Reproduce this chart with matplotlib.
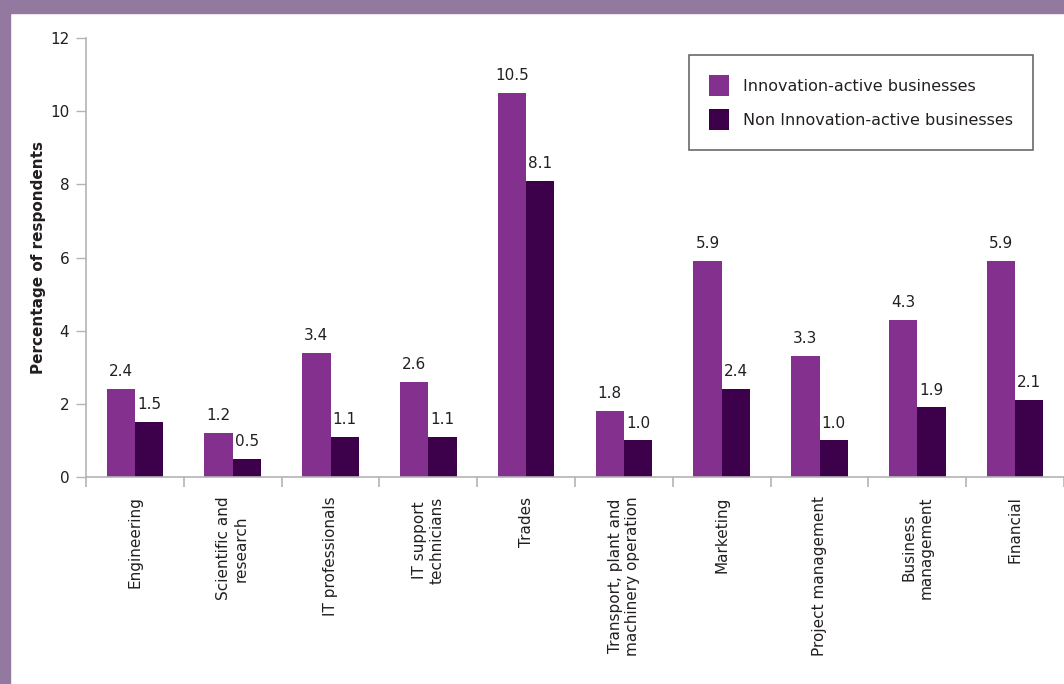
import matplotlib.pyplot as plt
import numpy as np
from matplotlib.patches import Rectangle

categories = ["Engineering", "Scientific and\nresearch", "IT professionals",
              "IT support\ntechnicians", "Trades", "Transport, plant and\nmachinery operation",
              "Marketing", "Project management", "Business\nmanagement", "Financial"]
innovative = [2.4, 1.2, 3.4, 2.6, 10.5, 1.8, 5.9, 3.3, 4.3, 5.9]
non_innovative = [1.5, 0.5, 1.1, 1.1, 8.1, 1.0, 2.4, 1.0, 1.9, 2.1]
series_names = ["Innovation-active businesses", "Non Innovation-active businesses"]

C_INNOV = "#84308f"
C_NON = "#3d004b"
C_AXIS = "#b4b4b4"
C_TEXT = "#231f20"

plt.rcParams['font.family'] = ['DejaVu Sans']

fig = plt.figure(figsize=(10.64, 6.84), dpi=100)
fig.patch.set_facecolor("white")

# purple frame along top and left
fig.patches.append(Rectangle((0, 1 - 13 / 684), 1, 13 / 684, transform=fig.transFigure,
                             color="#93789f", zorder=0))
fig.patches.append(Rectangle((0, 0), 10 / 1064, 1, transform=fig.transFigure,
                             color="#93789f", zorder=0))

ax = fig.add_axes([86 / 1064, (684 - 477) / 684, (1064 - 86) / 1064, (477 - 38) / 684])

x = np.arange(len(categories)) + 0.5
w = 0.29
b1 = ax.bar(x - w / 2, innovative, w, color=C_INNOV, label=series_names[0])
b2 = ax.bar(x + w / 2, non_innovative, w, color=C_NON, label=series_names[1])

for rects, vals in [(b1, innovative), (b2, non_innovative)]:
    for r, v in zip(rects, vals):
        ax.text(r.get_x() + r.get_width() / 2, v + 0.27, "{:.1f}".format(v),
                ha="center", va="bottom", fontsize=11, color=C_TEXT)

ax.set_xlim(0, len(categories))
ax.set_ylim(0, 12)
ax.set_yticks(range(0, 13, 2))
ax.set_xticks(np.arange(len(categories) + 1))
ax.set_xticklabels([])
ax.set_xticks(x, minor=True)
ax.set_xticklabels(categories, minor=True, rotation=90, ha="center", va="top",
                   fontsize=11, color=C_TEXT, multialignment="center")
ax.tick_params(axis="x", which="minor", length=0, pad=14)
ax.tick_params(axis="x", which="major", length=7, color=C_AXIS, width=1.2)
ax.tick_params(axis="y", length=7, color=C_AXIS, width=1, labelsize=11,
               labelcolor=C_TEXT, pad=5)

for side in ["top", "right"]:
    ax.spines[side].set_visible(False)
for side in ["left", "bottom"]:
    ax.spines[side].set_color(C_AXIS)
    ax.spines[side].set_linewidth(1.2)

ax.set_ylabel("Percentage of respondents", fontsize=11, fontweight="bold",
              color=C_TEXT, labelpad=3)

leg = ax.legend(loc="upper right", bbox_to_anchor=(0.9683, 0.961), borderaxespad=0,
                frameon=True, fancybox=False, edgecolor="#444444", fontsize=11.5,
                handlelength=1.3, handleheight=1.6, labelspacing=0.85,
                borderpad=1.25, handletextpad=0.85)
leg.get_frame().set_linewidth(1.2)
for t in leg.get_texts():
    t.set_color(C_TEXT)

fig.savefig("out.png", dpi=100)
